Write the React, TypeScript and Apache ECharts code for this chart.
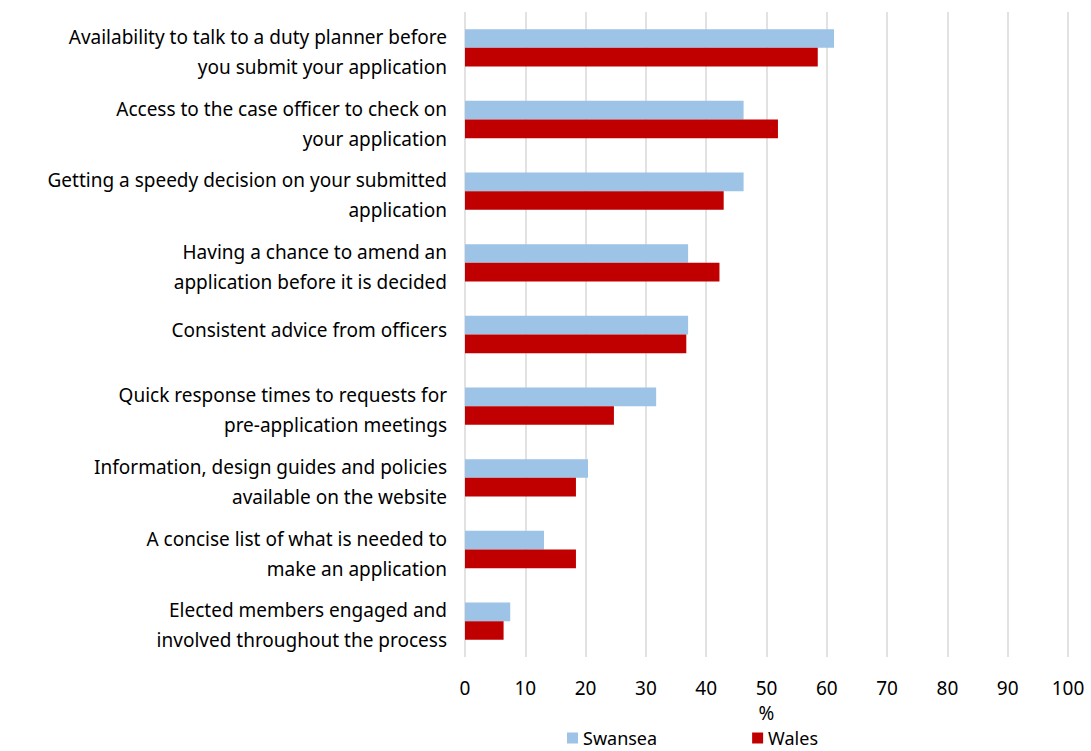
import React, { useEffect, useRef } from "react";
import * as echarts from "echarts";

const categories = [
  "Availability to talk to a duty planner before\nyou submit your application",
  "Access to the case officer to check on\nyour application",
  "Getting a speedy decision on your submitted\napplication",
  "Having a chance to amend an\napplication before it is decided",
  "Consistent advice from officers",
  "Quick response times to requests for\npre-application meetings",
  "Information, design guides and policies\navailable on the website",
  "A concise list of what is needed to\nmake an application",
  "Elected members engaged and\ninvolved throughout the process",
];
const swansea = [61.2, 46.2, 46.2, 37.0, 37.0, 31.7, 20.4, 13.1, 7.5];
const wales = [58.5, 51.9, 42.9, 42.2, 36.7, 24.7, 18.4, 18.4, 6.4];
const seriesNames = ["Swansea", "Wales"];
const colors = ["#9DC3E6", "#C00000"];

const FONT = "'Noto Sans', sans-serif";

export default function App() {
  const ref = useRef<HTMLDivElement>(null);
  useEffect(() => {
    document.body.style.margin = "0";
    const chart = echarts.init(ref.current!, null, { renderer: "svg" });
    chart.setOption({
      animation: false,
      textStyle: { fontFamily: FONT, color: "#000" },
      grid: { left: 465, right: 23, top: 12, bottom: 94, containLabel: false },
      legend: {
        left: 567,
        top: 728,
        padding: 0,
        itemWidth: 11,
        itemHeight: 11,
        itemGap: 95,
        icon: "rect",
        textStyle: { fontFamily: FONT, fontSize: 18, color: "#000", lineHeight: 20 },
        data: seriesNames,
      },
      xAxis: {
        type: "value",
        min: 0,
        max: 100,
        interval: 10,
        name: "%",
        nameLocation: "middle",
        nameGap: 46,
        nameTextStyle: { fontFamily: FONT, fontSize: 19, color: "#000" },
        axisLine: { show: false },
        axisTick: { show: false },
        axisLabel: { fontFamily: FONT, fontSize: 19, color: "#000", margin: 21 },
        splitLine: { show: true, lineStyle: { color: "#D9D9D9", width: 1.5 } },
      },
      yAxis: {
        type: "category",
        inverse: true,
        data: categories,
        axisLine: { show: false },
        axisTick: { show: false },
        axisLabel: {
          fontFamily: FONT,
          fontSize: 19,
          color: "#000",
          margin: 18,
          align: "right",
          formatter: (v: string) => {
            const parts = v.split("\n");
            if (parts.length === 2) return `{a|${parts[0]}}\n{b|${parts[1]}}`;
            return `{a2|${parts[0]}}\n{e| }`;
          },
          rich: {
            a: { fontFamily: FONT, fontSize: 19, color: "#000", lineHeight: 38, align: "right" },
            b: { fontFamily: FONT, fontSize: 19, color: "#000", lineHeight: 22, align: "right" },
            a2: { fontFamily: FONT, fontSize: 19, color: "#000", lineHeight: 30, align: "right" },
            e: { fontFamily: FONT, fontSize: 6, color: "#000", lineHeight: 10, align: "right" },
          },
        },
      },
      series: [
        {
          name: seriesNames[0],
          type: "bar",
          data: swansea,
          itemStyle: { color: colors[0] },
          barGap: "0%",
          barCategoryGap: "48%",
        },
        {
          name: seriesNames[1],
          type: "bar",
          data: wales,
          itemStyle: { color: colors[1] },
          barGap: "0%",
          barCategoryGap: "48%",
        },
      ],
    });
    return () => chart.dispose();
  }, []);
  return <div ref={ref} style={{ width: 1091, height: 751 }} />;
}
